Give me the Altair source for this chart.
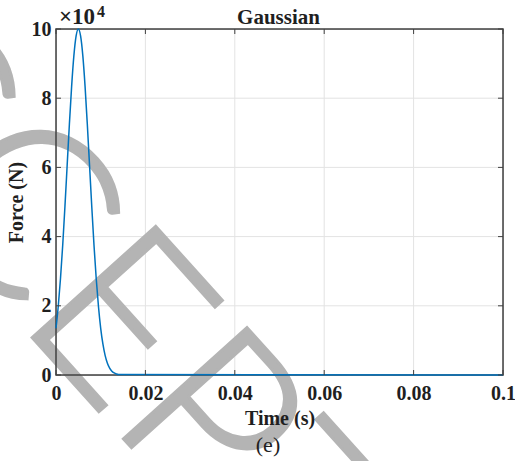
import altair as alt
import pandas as pd

# ---- data ----
time_s = [0.0, 0.0005, 0.001, 0.0015, 0.002, 0.0025, 0.003, 0.0035, 0.004, 0.0045,
          0.005, 0.0055, 0.006, 0.0065, 0.007, 0.0075, 0.008, 0.0085, 0.009, 0.0095,
          0.010, 0.0105, 0.011, 0.0115, 0.012, 0.0125, 0.013, 0.0135, 0.014, 0.1]
force_1e4 = [1.35, 1.98, 2.78, 3.75, 4.87, 6.07, 7.26, 8.35, 9.23, 9.80,
             10.0, 9.80, 9.23, 8.35, 7.26, 6.07, 4.87, 3.75, 2.78, 1.98,
             1.35, 0.89, 0.56, 0.34, 0.20, 0.11, 0.06, 0.03, 0.015, 0.0]
x_ticks = [0, 0.02, 0.04, 0.06, 0.08, 0.1]
y_ticks = [0, 2, 4, 6, 8, 10]
x_grid = [0.02, 0.04, 0.06, 0.08]
y_grid = [2, 4, 6, 8]

title_text = "Gaussian"
x_title = "Time (s)"
y_title = "Force (N)"
exp_base = "×10"
exp_power = "4"
caption = "(e)"
watermark = "ACCEPTED"

W, H = 447, 346
SERIF = "Liberation Serif"
DARK = "#1f1f1f"

line_df = pd.DataFrame({"time": time_s, "force": force_1e4})
xg_df = pd.DataFrame({"time": x_grid})
yg_df = pd.DataFrame({"force": y_grid})
xt_df = pd.DataFrame({"time": x_ticks})
yt_df = pd.DataFrame({"force": y_ticks})

x_axis = alt.Axis(values=x_ticks, format="~g", labelFont=SERIF, labelFontWeight="bold",
                  labelFontSize=20, labelColor=DARK, labelPadding=8, labelFlush=False,
                  ticks=False, domain=False, grid=False, title=x_title, titleFont=SERIF,
                  titleFontWeight="bold", titleFontSize=20, titleColor=DARK,
                  titlePadding=5, zindex=1)
y_axis = alt.Axis(values=y_ticks, format="d", labelFont=SERIF, labelFontWeight="bold",
                  labelFontSize=20, labelColor=DARK, labelPadding=5, labelFlush=False,
                  ticks=False, domain=False, grid=False, title=y_title, titleFont=SERIF,
                  titleFontWeight="bold", titleFontSize=20, titleColor=DARK,
                  titlePadding=5, zindex=1)
xs = alt.Scale(domain=[0, 0.1], nice=False, zero=False)
ys = alt.Scale(domain=[0, 10], nice=False)
X = alt.X("time:Q", scale=xs, axis=x_axis)
Y = alt.Y("force:Q", scale=ys, axis=y_axis)

grid_x = alt.Chart(xg_df).mark_rule(color="#e3e3e3", strokeWidth=1).encode(x=X)
grid_y = alt.Chart(yg_df).mark_rule(color="#e3e3e3", strokeWidth=1).encode(y=Y)

wm = alt.Chart(pd.DataFrame({"t": [watermark]})).mark_text(
    font="Lato", fontWeight=300, fontSize=235, color="#b4b4b4",
    stroke="#b4b4b4", strokeWidth=3,
    angle=48, align="center", baseline="alphabetic"
).encode(x=alt.value(46), y=alt.value(386), text="t:N")

border = alt.Chart(pd.DataFrame({"a": [0]})).mark_rect(
    fill=None, fillOpacity=0, stroke="#404040", strokeWidth=1.5
).encode(x=alt.value(0), x2=alt.value(W), y=alt.value(0), y2=alt.value(H))

line = alt.Chart(line_df).mark_line(color="#0072BD", strokeWidth=1.5,
                                    interpolate="monotone").encode(x=X, y=Y)

tk = dict(color="#404040", strokeWidth=1)
tick_b = alt.Chart(xt_df).mark_rule(**tk).encode(x=X, y=alt.value(H), y2=alt.value(H - 5))
tick_t = alt.Chart(xt_df).mark_rule(**tk).encode(x=X, y=alt.value(0), y2=alt.value(5))
tick_l = alt.Chart(yt_df).mark_rule(**tk).encode(y=Y, x=alt.value(0), x2=alt.value(5))
tick_r = alt.Chart(yt_df).mark_rule(**tk).encode(y=Y, x=alt.value(W), x2=alt.value(W - 5))

def txt(s, x, y, size, weight="bold", align="center", baseline="alphabetic"):
    return alt.Chart(pd.DataFrame({"t": [s]})).mark_text(
        font=SERIF, fontSize=size, fontWeight=weight, color=DARK,
        align=align, baseline=baseline
    ).encode(x=alt.value(x), y=alt.value(y), text="t:N")

title = txt(title_text, W / 2 - 1, -5, 21)
e_base = txt(exp_base, 3, -5, 23, align="left")
e_pow = txt(exp_power, 41, -12, 16, align="left")
cap = txt(caption, 212, 77 + H, 22, weight="normal")

chart = alt.layer(
    grid_x, grid_y, wm, border, line, tick_b, tick_t, tick_l, tick_r,
    title, e_base, e_pow, cap
).properties(
    width=W, height=H,
    autosize=alt.AutoSizeParams(type="none"),
    padding={"left": 56, "top": 29, "right": 12, "bottom": 86},
).configure_view(stroke=None).configure(background="white")

chart.save("out.html", embed_options={"renderer": "svg", "actions": False})
